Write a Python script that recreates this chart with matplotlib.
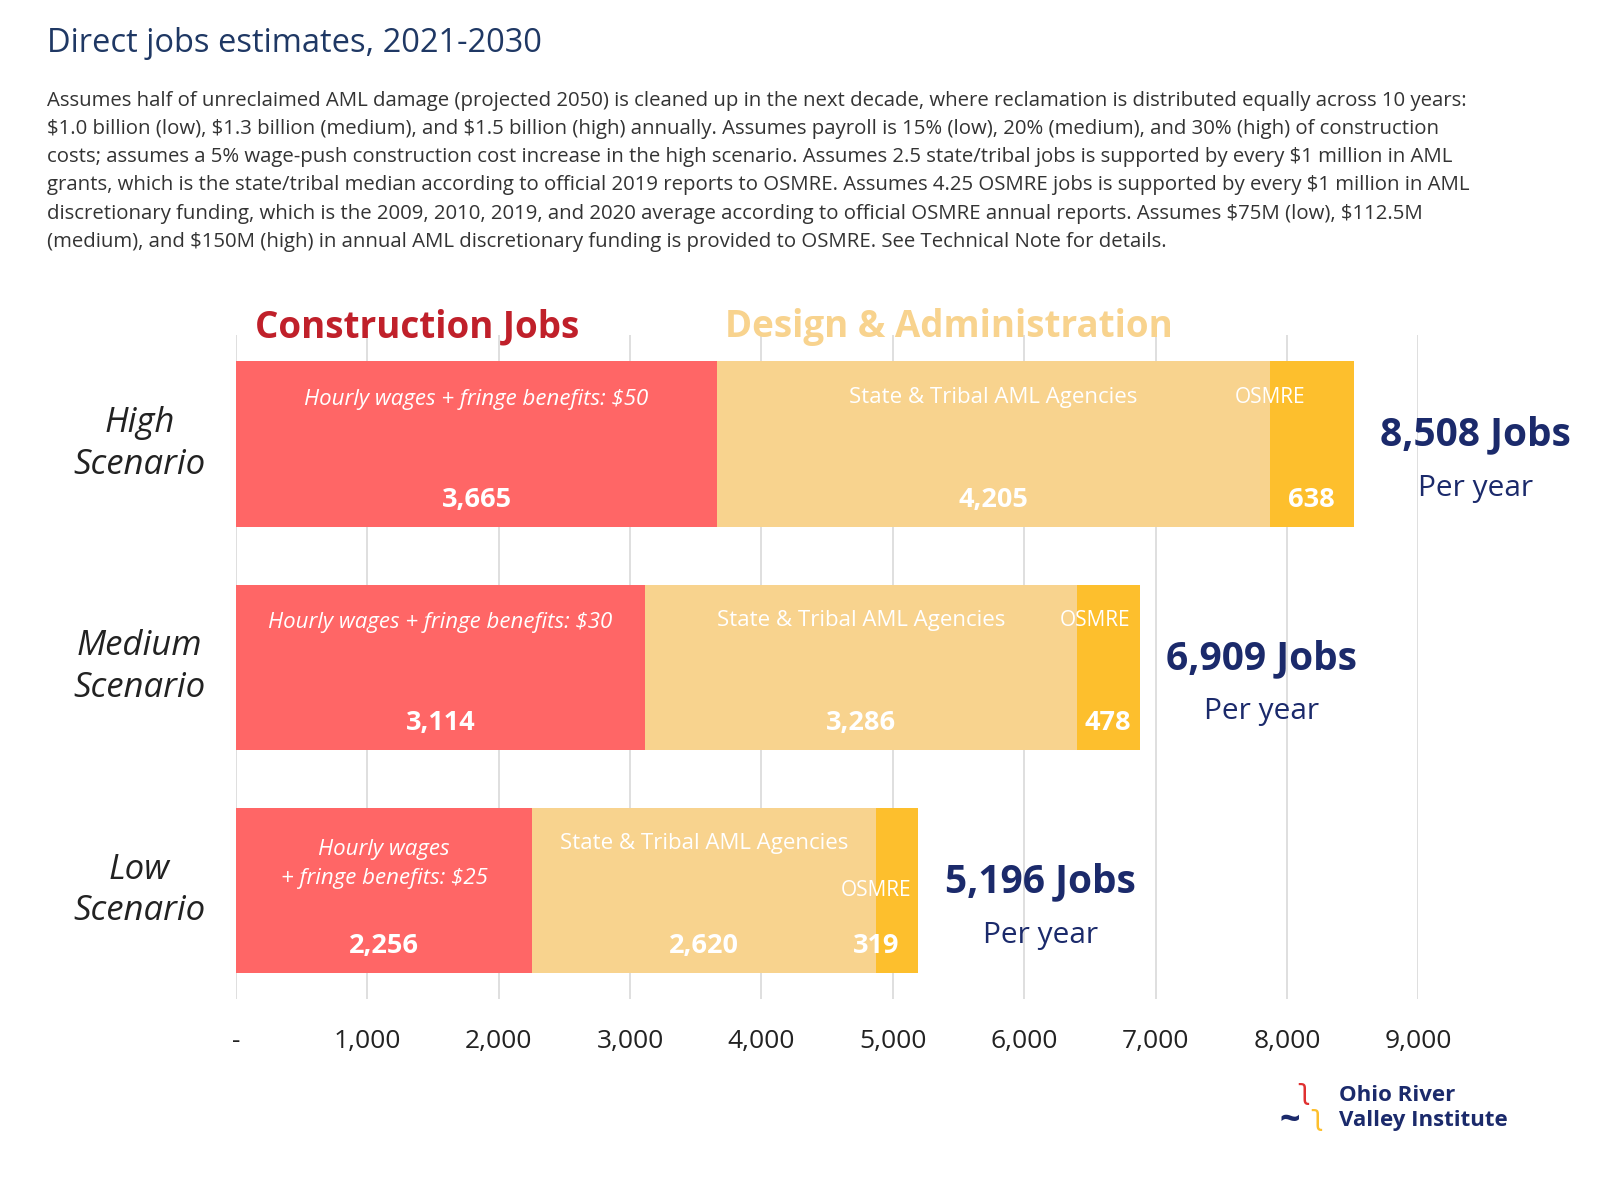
import matplotlib
matplotlib.use("Agg")
import matplotlib.pyplot as plt

scenarios = ["High\nScenario", "Medium\nScenario", "Low\nScenario"]
construction = [3665, 3114, 2256]
state_tribal = [4205, 3286, 2620]
osmre = [638, 478, 319]
totals = ["8,508", "6,909", "5,196"]
wage_labels = ["Hourly wages + fringe benefits: \\$50", "Hourly wages + fringe benefits: \\$30",
               "Hourly wages\n+ fringe benefits: \\$25"]
ticks = [0, 1000, 2000, 3000, 4000, 5000, 6000, 7000, 8000, 9000]
tick_labels = ["-", "1,000", "2,000", "3,000", "4,000", "5,000", "6,000", "7,000", "8,000", "9,000"]

FW, FH = 1614, 1178
W, H = 1567, 1144  # reference reading scale
plt.rcParams['font.family'] = ['Open Sans', 'DejaVu Sans']
fig = plt.figure(figsize=(FW/100, FH/100), dpi=100)
def px(x, y):
    return x / W, 1 - y / H

RED, LIGHT, GOLD, NAVY = "#FF6666", "#F8D38E", "#FDBF2D", "#1B2A6B"
ax = fig.add_axes([229/W, 1-970/H, (1377-229)/W, (970-325)/H])
ax.set_xlim(0, 9000)
ax.set_ylim(2.485, -0.49)
ys = [0, 1, 2]
ax.barh(ys, construction, height=0.74, color=RED, zorder=2)
ax.barh(ys, state_tribal, left=construction, height=0.74, color=LIGHT, zorder=2)
left2 = [c + s for c, s in zip(construction, state_tribal)]
ax.barh(ys, osmre, left=left2, height=0.74, color=GOLD, zorder=2)
for s in ax.spines.values():
    s.set_visible(False)
ax.set_xticks(ticks)
ax.set_xticklabels(tick_labels, fontsize=19, color="#222222")
ax.tick_params(axis='x', length=0, pad=22)
ax.set_yticks([])
ax.grid(axis='x', color="#D9D9D9", lw=1.2, zorder=0)

osmre_pos = [0.0, 0.3, 0.0]  # label centre as fraction of the OSMRE segment
for i, y in enumerate(ys):
    c, s, o = construction[i], state_tribal[i], osmre[i]
    ax.text(c/2, y - 0.2 + (0.08 if i == 2 else 0), wage_labels[i], ha='center', va='center',
            color='white', style='italic', fontsize=16, linespacing=1.5)
    ax.text(c/2, y + 0.25, f"{c:,}", ha='center', va='center', color='white', fontweight='bold', fontsize=19.5)
    ax.text(c + s/2, y - 0.21, "State & Tribal AML Agencies", ha='center', va='center', color='white', fontsize=16)
    ax.text(c + s/2, y + 0.25, f"{s:,}", ha='center', va='center', color='white', fontweight='bold', fontsize=19.5)
    oy = y + 0.0 if i == 2 else y - 0.21
    ax.text(c + s + o * osmre_pos[i], oy, "OSMRE", ha='center', va='center', color='white', fontsize=15)
    ax.text(c + s + (o/2 if i != 2 else 0), y + 0.25, f"{o:,}", ha='center', va='center', color='white', fontweight='bold', fontsize=19.5)
    tot = c + s + o
    ax.text(tot + 930, y - 0.04, f"{totals[i]} Jobs", ha='center', va='center', color=NAVY, fontweight='bold', fontsize=28)
    ax.text(tot + 930, y + 0.2, "Per year", ha='center', va='center', color=NAVY, fontsize=21.5)
    ax.text(-735, y, scenarios[i], ha='center', va='center', style='italic', fontsize=25, color="#222222", linespacing=1.3)

fig.text(*px(46, 42), "Direct jobs estimates, 2021-2030", fontsize=23.5, color="#1F3864", va='center')
body = ("Assumes half of unreclaimed AML damage (projected 2050) is cleaned up in the next decade, where reclamation is distributed equally across 10 years:\n"
        "\\$1.0 billion (low), \\$1.3 billion (medium), and \\$1.5 billion (high) annually. Assumes payroll is 15% (low), 20% (medium), and 30% (high) of construction\n"
        "costs; assumes a 5% wage-push construction cost increase in the high scenario. Assumes 2.5 state/tribal jobs is supported by every \\$1 million in AML\n"
        "grants, which is the state/tribal median according to official 2019 reports to OSMRE. Assumes 4.25 OSMRE jobs is supported by every \\$1 million in AML\n"
        "discretionary funding, which is the 2009, 2010, 2019, and 2020 average according to official OSMRE annual reports. Assumes \\$75M (low), \\$112.5M\n"
        "(medium), and \\$150M (high) in annual AML discretionary funding is provided to OSMRE. See Technical Note for details.")
fig.text(*px(46, 88), body, fontsize=14.7, color="#333333", va='top', linespacing=1.55)
fig.text(*px(248, 318), "Construction Jobs", fontsize=26.5, fontweight='bold', color="#C0202A", va='center')
fig.text(*px(704, 318), "Design & Administration", fontsize=26.5, fontweight='bold', color=LIGHT, va='center')
fig.text(*px(1300, 1076), "Ohio River\nValley Institute", fontsize=16, fontweight='bold', color=NAVY, va='center', linespacing=1.3)
fig.text(*px(1266, 1060), "ʅ", fontsize=20, color="#E03030", va='center', ha='center')
fig.text(*px(1252, 1090), "~", fontsize=26, color=NAVY, va='center', ha='center', fontweight='bold')
fig.text(*px(1278, 1086), "ʅ", fontsize=20, color=GOLD, va='center', ha='center')
fig.savefig("out.png", dpi=100, facecolor='white')
